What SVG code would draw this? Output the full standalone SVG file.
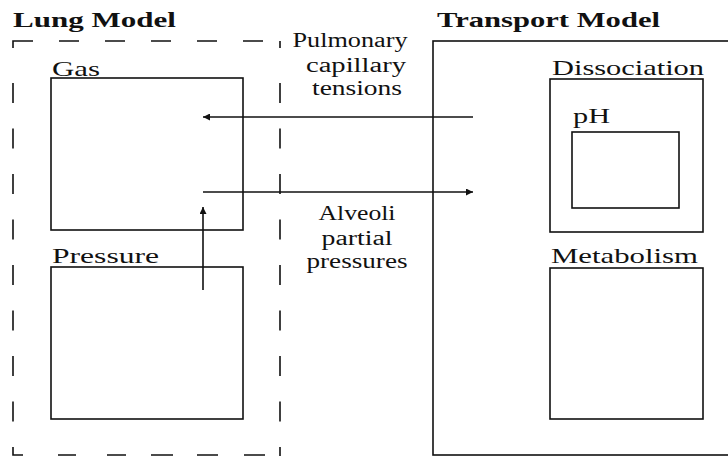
<svg xmlns="http://www.w3.org/2000/svg" width="728" height="457" viewBox="0 0 728 457">
<defs>
<style>
.box{fill:none;stroke:#111;stroke-width:1.6}
.dash{fill:none;stroke:#111;stroke-width:1.6}
.title{font-family:"Liberation Serif",serif;font-weight:bold;font-size:22px;fill:#111}
.lab{font-family:"Liberation Serif",serif;font-size:22px;fill:#111}
.mid{font-family:"Liberation Serif",serif;font-size:20px;fill:#111;text-anchor:middle}
.conn{stroke:#111;stroke-width:1.6;fill:none}
</style>
<marker id="ah" viewBox="0 0 10 10" refX="10" refY="5" markerWidth="9" markerHeight="7" markerUnits="userSpaceOnUse" orient="auto">
<path d="M0,0 L10,5 L0,10 Z" fill="#111"/>
</marker>
</defs>
<rect width="728" height="457" fill="#fff"/>

<g id="lung-model">
<path class="dash" d="M13,48 V41 H33 M59,41 h20 M105,41 h20 M151,41 h20 M197,41 h20 M243,41 h20
M13,83 v20 M13,128.5 v20 M13,174 v20 M13,219.5 v20 M13,265 v20 M13,310.5 v20 M13,356 v20 M13,401.5 v20 M13,447 V455 H23
M58,455 h18 M107,455 h19 M151,455 h22 M197,455 h21 M244,455 h21
M280,41 v7 M280,83 v20 M280,128.5 v20 M280,174 v20 M280,219.5 v20 M280,265 v20 M280,310.5 v20 M280,356 v20 M280,401.5 v20 M280,447 v9"/>
<text class="title" x="13" y="27" textLength="163" lengthAdjust="spacingAndGlyphs">Lung Model</text>
</g>

<g id="gas">
<rect class="box" x="51" y="78" width="192" height="152"/>
<text class="lab" x="52" y="76" textLength="48" lengthAdjust="spacingAndGlyphs">Gas</text>
</g>

<g id="pressure">
<rect class="box" x="51" y="267" width="192" height="152"/>
<text class="lab" x="52" y="263" textLength="107" lengthAdjust="spacingAndGlyphs">Pressure</text>
</g>

<g id="transport-model">
<rect class="box" x="433" y="41" width="320" height="414"/>
<text class="title" x="437" y="27" textLength="223" lengthAdjust="spacingAndGlyphs">Transport Model</text>
</g>

<g id="dissociation">
<rect class="box" x="550" y="79" width="153" height="153"/>
<text class="lab" x="552" y="75" textLength="152" lengthAdjust="spacingAndGlyphs">Dissociation</text>
</g>

<g id="ph">
<rect class="box" x="572" y="132" width="107" height="76"/>
<text class="lab" x="573" y="123" textLength="37" lengthAdjust="spacingAndGlyphs">pH</text>
</g>

<g id="metabolism">
<rect class="box" x="550" y="268" width="153" height="151"/>
<text class="lab" x="551" y="263" textLength="147" lengthAdjust="spacingAndGlyphs">Metabolism</text>
</g>

<g id="connectors">
<line class="conn" x1="473" y1="117" x2="203" y2="117" marker-end="url(#ah)"/>
<line class="conn" x1="203" y1="192" x2="473" y2="192" marker-end="url(#ah)"/>
<line class="conn" x1="203" y1="290" x2="203" y2="207" marker-end="url(#ah)"/>
</g>

<g id="labels">
<text class="mid" x="350" y="47" textLength="115" lengthAdjust="spacingAndGlyphs">Pulmonary</text>
<text class="mid" x="356" y="72" textLength="100" lengthAdjust="spacingAndGlyphs">capillary</text>
<text class="mid" x="357" y="95" textLength="90" lengthAdjust="spacingAndGlyphs">tensions</text>
<text class="mid" x="357" y="220" textLength="77" lengthAdjust="spacingAndGlyphs">Alveoli</text>
<text class="mid" x="357" y="245" textLength="71" lengthAdjust="spacingAndGlyphs">partial</text>
<text class="mid" x="357" y="268" textLength="101" lengthAdjust="spacingAndGlyphs">pressures</text>
</g>
</svg>
